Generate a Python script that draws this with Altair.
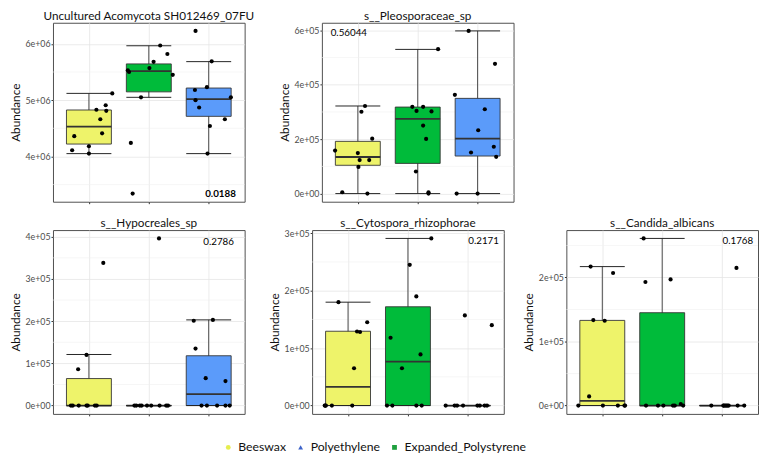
import altair as alt
import pandas as pd

# ---------------- data ----------------
x_groups = ["Beeswax", "Expanded_Polystyrene", "Polyethylene"]      # order along x
box_fill = ["#EEF36A", "#00BB3A", "#5B9BFA"]

legend_order = ["Beeswax", "Polyethylene", "Expanded_Polystyrene"]
legend_colors = ["#E6EE4E", "#3D63C9", "#1FA03E"]
legend_shapes = ["circle", "triangle-up", "square"]

titles = [
    "Uncultured Acomycota SH012469_07FU",
    "s__Pleosporaceae_sp",
    "s__Hypocreales_sp",
    "s__Cytospora_rhizophorae",
    "s__Candida_albicans",
]
p_values = ["0.0188", "0.56044", "0.2786", "0.2171", "0.1768"]
exponents = [6, 5, 5, 5, 5]
y_ticks = [[4, 5, 6], [0, 2, 4, 6], [0, 1, 2, 3, 4], [0, 1, 2, 3], [0, 1, 2]]

# abundance values (in units of 10^exponent), per panel, per group (x order)
p1_values = [
    [5.12, 4.83, 4.91, 4.81, 4.66, 4.41, 4.36, 4.18, 4.11, 4.05],
    [5.97, 5.82, 5.68, 5.57, 5.53, 5.50, 5.45, 5.05, 4.24, 3.34],
    [6.23, 5.69, 5.23, 5.18, 5.00, 5.05, 4.87, 4.54, 4.66, 4.05],
]
p1_jitter = [
    [0.39, 0.125, 0.28, 0.29, 0.19, 0.22, -0.245, 0.0, -0.28, 0.0],
    [0.19, 0.31, 0.08, 0.01, -0.35, -0.33, 0.40, -0.13, -0.30, -0.27],
    [-0.22, 0.05, -0.03, -0.23, -0.22, 0.37, -0.16, 0.02, 0.27, -0.02],
]
p1_box = [  # lower whisker, q1, median, q3, upper whisker
    [4.05, 4.22, 4.53, 4.825, 5.12],
    [5.05, 5.147, 5.514, 5.644, 5.966],
    [4.05, 4.712, 5.02, 5.215, 5.684],
]

p2_values = [
    [3.22, 3.01, 2.02, 1.58, 1.49, 1.23, 1.23, 0.98, 0.05, 0.0],
    [5.31, 3.04, 3.19, 3.19, 3.02, 2.50, 2.01, 0.81, 0.05, 0.0],
    [5.98, 4.77, 3.63, 3.10, 2.33, 1.72, 1.51, 1.35, 0.0, 0.0],
]
p2_jitter = [
    [0.12, 0.06, 0.24, -0.38, 0.0, 0.03, 0.19, 0.01, -0.26, 0.16],
    [0.34, -0.02, -0.09, 0.09, 0.23, 0.09, 0.14, -0.03, 0.18, 0.18],
    [-0.15, 0.29, -0.38, 0.12, 0.01, 0.27, -0.11, 0.31, -0.35, 0.0],
]
p2_box = [
    [0.0, 1.04, 1.345, 1.92, 3.22],
    [0.0, 1.11, 2.75, 3.18, 5.30],
    [0.0, 1.38, 2.02, 3.50, 5.98],
]

p3_values = [
    [3.38, 1.20, 0.86, 0.0, 0.0, 0.0, 0.0, 0.0, 0.0, 0.0],
    [3.96, 0.0, 0.0, 0.0, 0.0, 0.0, 0.0, 0.0, 0.0, 0.0],
    [2.03, 2.01, 1.35, 0.65, 0.58, 0.0, 0.0, 0.0, 0.0, 0.0],
]
p3_jitter = [
    [0.24, -0.04, -0.18, -0.30, -0.27, -0.17, -0.04, 0.10, 0.13, -0.02],
    [0.17, -0.24, -0.21, -0.15, -0.12, -0.03, 0.04, 0.18, 0.29, 0.32],
    [0.07, -0.25, -0.22, -0.05, 0.28, -0.12, -0.03, 0.14, 0.28, 0.35],
]
p3_box = [
    [0.0, 0.0, 0.0, 0.64, 1.21],
    [0.0, 0.0, 0.0, 0.0, 0.0],
    [0.0, 0.0, 0.27, 1.18, 2.03],
]

p4_values = [
    [1.80, 1.45, 1.29, 1.28, 0.65, 0.0, 0.0, 0.0, 0.0, 0.0],
    [2.91, 2.45, 1.90, 1.18, 0.89, 0.65, 0.0, 0.0, 0.0, 0.0],
    [1.57, 1.40, 0.0, 0.0, 0.0, 0.0, 0.0, 0.0, 0.0, 0.0],
]
p4_jitter = [
    [-0.16, 0.32, 0.15, 0.20, 0.10, -0.38, -0.37, -0.27, 0.07, -0.39],
    [0.39, 0.03, 0.14, -0.29, 0.21, -0.10, -0.35, -0.26, 0.14, 0.23],
    [-0.05, 0.40, -0.37, -0.22, -0.18, -0.08, 0.16, 0.20, 0.28, 0.32],
]
p4_box = [
    [0.0, 0.0, 0.326, 1.294, 1.80],
    [0.0, 0.0, 0.767, 1.72, 2.91],
    [0.0, 0.0, 0.0, 0.0, 0.0],
]

p5_values = [
    [2.17, 2.07, 1.335, 1.325, 0.143, 0.0, 0.0, 0.0, 0.0, 0.0],
    [2.61, 1.93, 1.97, 0.0, 0.0, 0.0, 0.0, 0.0, 0.025, 0.0],
    [2.15, 0.0, 0.0, 0.0, 0.0, 0.0, 0.0, 0.0, 0.0, 0.0],
]
p5_jitter = [
    [-0.195, 0.18, -0.15, 0.04, -0.22, -0.40, 0.01, 0.26, 0.37, 0.38],
    [-0.31, -0.28, 0.14, -0.27, -0.07, 0.02, 0.18, 0.21, 0.31, 0.35],
    [0.24, -0.18, 0.02, 0.05, 0.07, 0.11, 0.26, 0.37, 0.03, 0.09],
]
p5_box = [
    [0.0, 0.0, 0.072, 1.33, 2.17],
    [0.0, 0.0, 0.0, 1.45, 2.61],
    [0.0, 0.0, 0.0, 0.0, 0.0],
]

all_values = [p1_values, p2_values, p3_values, p4_values, p5_values]
all_jitter = [p1_jitter, p2_jitter, p3_jitter, p4_jitter, p5_jitter]
all_box = [p1_box, p2_box, p3_box, p4_box, p5_box]

# ---------------- layout / style ----------------
W = 196
H_TOP, H_BOTTOM = 183, 188
FONT = "Lato"
BOX_HALF = 0.375


def p_place(i, h):
    # (x px, y px, align, bold) for the p-value annotation
    return [
        (W - 9, h - 8, "right", True),
        (9, 11, "left", False),
        (W - 11, 12, "right", False),
        (W - 5, 11, "right", False),
        (W - 5, 11, "right", False),
    ][i]


def make_panel(i, h, with_legend=False):
    f = 10 ** exponents[i]
    pts, boxes = [], []
    for gi, g in enumerate(x_groups):
        for v, j in zip(all_values[i][gi], all_jitter[i][gi]):
            pts.append({"group": g, "x": gi + 1 + j, "y": v * f})
        lo, q1, med, q3, hi = [b * f for b in all_box[i][gi]]
        boxes.append({"group": g, "xc": gi + 1, "xl": gi + 1 - BOX_HALF,
                      "xr": gi + 1 + BOX_HALF, "lo": lo, "q1": q1,
                      "med": med, "q3": q3, "hi": hi})
    pts = pd.DataFrame(pts)
    boxes = pd.DataFrame(boxes)

    ymin, ymax = pts["y"].min(), pts["y"].max()
    pad = 0.05 * (ymax - ymin)
    dom = [ymin - pad, ymax + pad]
    majors = [t * f for t in y_ticks[i]]
    step = majors[1] - majors[0]
    minors = [m for m in [majors[0] - step / 2] + [t + step / 2 for t in majors]
              if dom[0] < m < dom[1]]

    e = exponents[i]
    label_expr = (f"datum.value == 0 ? '0e+00' : "
                  f"format(round(datum.value / 1e{e}), 'd') + 'e+0{e}'")
    yscale = alt.Scale(domain=dom, nice=False, zero=False)
    yaxis = alt.Axis(values=majors, labelExpr=label_expr, title="Abundance",
                     grid=True, domain=False)
    xscale = alt.Scale(domain=[0.4, 3.6], nice=False, zero=False)
    xaxis = alt.Axis(values=[1, 2, 3], labels=False, title=None, grid=True,
                     domain=False)

    def X(field):
        return alt.X(field, type="quantitative", scale=xscale, axis=xaxis)

    def Y(field):
        return alt.Y(field, type="quantitative", scale=yscale, axis=yaxis)

    minor = alt.Chart(pd.DataFrame({"m": minors})).mark_rule(
        color="#F0F0F0", strokeWidth=0.6).encode(y=Y("m"))

    base = alt.Chart(boxes)
    whisk = base.mark_rule(color="#333333", strokeWidth=0.9).encode(
        x=X("xc"), y=Y("lo"), y2="hi")
    box = base.mark_bar(stroke="#333333", strokeWidth=0.9).encode(
        x=X("xl"), x2="xr", y=Y("q1"), y2="q3",
        fill=alt.Fill("group:N", scale=alt.Scale(domain=x_groups, range=box_fill),
                      legend=None))
    med = base.mark_rule(color="#333333", strokeWidth=1.8).encode(
        x=X("xl"), x2="xr", y=Y("med"))
    cap_hi = base.mark_rule(color="#222222", strokeWidth=1.0).encode(
        x=X("xl"), x2="xr", y=Y("hi"))
    cap_lo = base.mark_rule(color="#222222", strokeWidth=1.0).encode(
        x=X("xl"), x2="xr", y=Y("lo"))
    dots = alt.Chart(pts).mark_circle(size=18, color="black", opacity=1).encode(
        x=X("x"), y=Y("y"))

    px, py, al, bold = p_place(i, h)
    ptxt = alt.Chart(pd.DataFrame({"p": [p_values[i]]})).mark_text(
        align=al, baseline="middle", fontSize=10, font=FONT,
        fontWeight="bold" if bold else "normal", color="black").encode(
        x=alt.value(px), y=alt.value(py), text="p:N")

    ttl = alt.Chart(pd.DataFrame({"t": [titles[i]]})).mark_text(
        align="center", baseline="middle", fontSize=12, font=FONT,
        color="#111111").encode(
        x=alt.value(W / 2), y=alt.value(-7), text="t:N")

    layers = [minor, whisk, box, med, cap_hi, cap_lo, dots, ptxt, ttl]
    if with_legend:
        leg = alt.Legend(orient="none", legendX=173, legendY=428,
                         direction="horizontal", title=None, gridAlign="none",
                         labelFontSize=12.5, labelFont=FONT, labelColor="#111111",
                         symbolSize=24, symbolStrokeWidth=0, columnPadding=8,
                         labelOffset=4)
        lg = alt.Chart(pts).mark_point(filled=True, size=24, opacity=1).encode(
            color=alt.Color("group:N", scale=alt.Scale(domain=legend_order,
                                                       range=legend_colors),
                            legend=leg),
            shape=alt.Shape("group:N", scale=alt.Scale(domain=legend_order,
                                                       range=legend_shapes),
                            legend=leg),
        ).transform_filter("false")
        layers.append(lg)

    return alt.layer(*layers).properties(width=W, height=h)


top = alt.hconcat(make_panel(0, H_TOP, with_legend=True), make_panel(1, H_TOP),
                  spacing=22)
bottom = alt.hconcat(make_panel(2, H_BOTTOM),
                     alt.hconcat(make_panel(3, H_BOTTOM), make_panel(4, H_BOTTOM),
                                 spacing=17),
                     spacing=22)

chart = alt.vconcat(top, bottom, spacing=12).properties(
    padding={"left": 0, "top": -4, "right": 0, "bottom": 0}
).configure_view(
    stroke="#4D4D4D", strokeWidth=1
).configure_axis(
    labelFont=FONT, labelFontSize=9, labelColor="#4D4D4D",
    titleFont=FONT, titleFontSize=12, titleFontWeight="normal",
    titleColor="#111111", titlePadding=3,
    tickColor="#333333", tickSize=2, labelPadding=1,
    gridColor="#E6E6E6", gridWidth=0.8,
)

chart.save("out.html", embed_options={"renderer": "svg", "actions": False})
